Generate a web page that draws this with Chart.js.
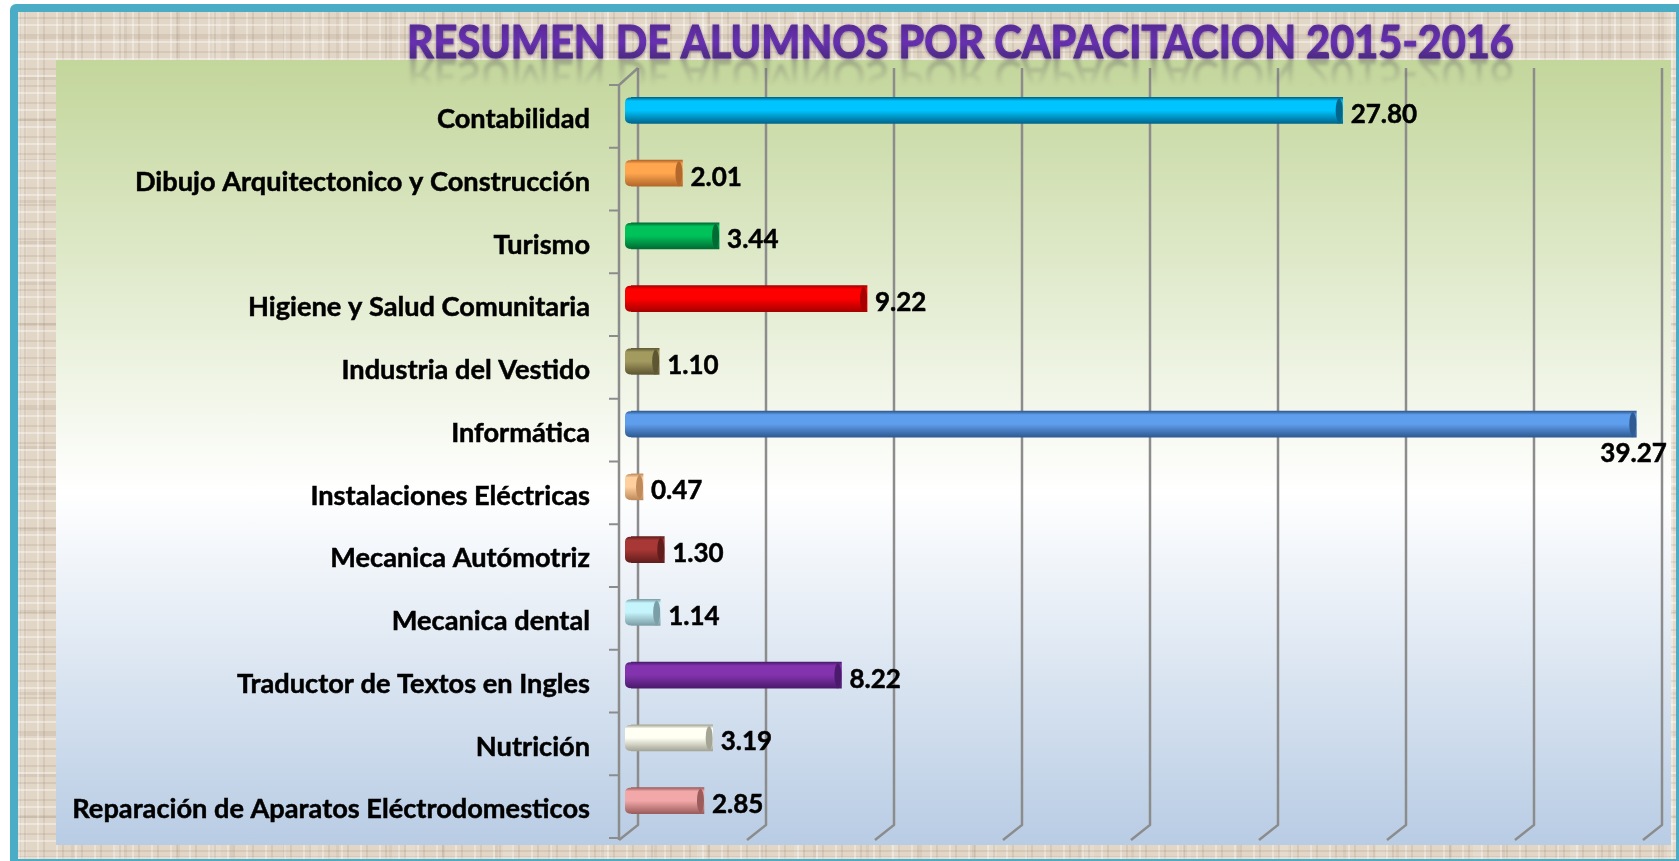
<!DOCTYPE html>
<html lang="es">
<head>
<meta charset="utf-8">
<title>Resumen de alumnos por capacitacion 2015-2016</title>
<script src="https://cdn.jsdelivr.net/npm/chart.js@4"></script>
<style>
    html, body { margin: 0; padding: 0; background: #fff; overflow: hidden; }
    #page { position: relative; width: 1679px; height: 861px; }
    #frame { position: absolute; left: 10px; top: 4px; width: 1669px; height: 857px; background: #4bacc6; border-radius: 6px 0 0 0; }
    /* imitacion de la tela de fondo */
    #cloth {
        position: absolute; left: 18px; top: 12px; width: 1658px; height: 847px;
        background-color: #e2d6c6;
        background-image:
            repeating-linear-gradient(0deg, rgba(255,255,255,.38) 0 2px, transparent 2px 7px, rgba(120,100,80,.12) 7px 9px, transparent 9px 17px),
            repeating-linear-gradient(90deg, rgba(255,255,255,.34) 0 2px, transparent 2px 6px, rgba(120,100,80,.12) 6px 8px, transparent 8px 19px),
            repeating-linear-gradient(0deg, rgba(110,90,70,.10) 0 3px, transparent 3px 41px),
            repeating-linear-gradient(90deg, rgba(110,90,70,.08) 0 3px, transparent 3px 53px),
            repeating-linear-gradient(90deg, rgba(255,255,255,.14) 0 9px, transparent 9px 97px);
    }
    #panel {
        position: absolute; left: 56px; top: 60px; width: 1615px; height: 785px;
        background: linear-gradient(180deg, #c3d69b 0%, #ffffff 55%, #b8cce4 100%);
    }
    #chart { position: absolute; left: 0; top: 0; }
</style>
</head>
<body>
<div id="page">
    <div id="frame"></div>
    <div id="cloth"></div>
    <div id="panel"></div>
    <canvas id="chart" width="1679" height="861"></canvas>
</div>
<script>
const chartTitle = 'RESUMEN DE ALUMNOS POR CAPACITACION 2015-2016';

const categories = [
    'Contabilidad',
    'Dibujo Arquitectonico y Construcción',
    'Turismo',
    'Higiene y Salud Comunitaria',
    'Industria del Vestido',
    'Informática',
    'Instalaciones Eléctricas',
    'Mecanica Autómotriz',
    'Mecanica dental',
    'Traductor de Textos en Ingles',
    'Nutrición',
    'Reparación de Aparatos Eléctrodomesticos'
];
const values = [27.80, 2.01, 3.44, 9.22, 1.10, 39.27, 0.47, 1.30, 1.14, 8.22, 3.19, 2.85];

// color claro y color oscuro de cada cilindro
const barLight = ['#00c4ff', '#ffa64f', '#00c25a', '#ff0000', '#a39a60', '#5f9eed', '#ffcf9e', '#a83836', '#c6f4fc', '#8233ad', '#fffff4', '#f2a8a8'];
const barDark = ['#00668c', '#b3672a', '#006b33', '#a80000', '#5e5632', '#2f5a92', '#c08a5a', '#611d1c', '#7c9ea6', '#4a1b6c', '#a5a596', '#9c5c5c'];

const font = 'Lato, Carlito, sans-serif';
const gridColor = '#8c8c8c';
const barHeight = 26;

// desplazamientos del efecto 3D
const backX = 7, frontX = -12, backTop = 68, backBottom = 825, wallTop = 85, wallBottom = 840;

function barGradient(c, y, i) {
    const g = c.createLinearGradient(0, y - barHeight / 2, 0, y + barHeight / 2);
    g.addColorStop(0, barDark[i]);
    g.addColorStop(0.14, barLight[i]);
    g.addColorStop(0.5, barLight[i]);
    g.addColorStop(1, barDark[i]);
    return g;
}

const frame3d = {
    id: 'frame3d',
    beforeDatasetsDraw(chart) {
        const c = chart.ctx, x = chart.scales.x;
        c.save();
        c.strokeStyle = gridColor;
        c.lineWidth = 2.5;
        x.ticks.forEach(t => {
            const px = x.getPixelForValue(t.value) + backX;
            c.beginPath();
            c.moveTo(px, backTop);
            c.lineTo(px, backBottom);
            c.lineTo(px + frontX - backX, wallBottom);
            c.stroke();
        });
        // pared izquierda y marcas de categoria
        const x0 = x.getPixelForValue(0);
        const wall = x0 + frontX;
        c.beginPath();
        c.moveTo(x0 + backX, backTop);
        c.lineTo(wall, wallTop);
        c.lineTo(wall, wallBottom);
        c.stroke();
        const step = (wallBottom - 2 - wallTop) / categories.length;
        c.lineWidth = 2;
        for (let i = 0; i <= categories.length; i++) {
            c.beginPath();
            c.moveTo(wall - 10, wallTop + step * i);
            c.lineTo(wall, wallTop + step * i);
            c.stroke();
        }
        // extremos redondeados detras de cada barra
        chart.getDatasetMeta(0).data.forEach((bar, i) => {
            c.fillStyle = barGradient(c, bar.y, i);
            c.beginPath();
            c.roundRect(x0 - 6, bar.y - barHeight / 2, 10, barHeight, 5);
            c.roundRect(bar.x - 8, bar.y - barHeight / 2, 8, barHeight, 4);
            c.fill();
        });
        c.restore();
    },
    afterDatasetsDraw(chart) {
        const c = chart.ctx;
        c.save();
        chart.getDatasetMeta(0).data.forEach((bar, i) => {
            // tapa del cilindro
            c.fillStyle = barDark[i];
            c.beginPath();
            c.ellipse(bar.x - 3.5, bar.y, 3.5, barHeight / 2 - 1, 0, 0, Math.PI * 2);
            c.fill();
            // valor
            const txt = values[i].toFixed(2);
            c.font = 'bold 26px ' + font;
            c.fillStyle = '#000';
            c.strokeStyle = '#000';
            c.lineWidth = 0.5;
            c.textBaseline = 'middle';
            c.textAlign = 'left';
            const w = c.measureText(txt).width;
            let lx = bar.x + 8, ly = bar.y + 4;
            if (lx + w > chart.width - 8) {
                lx = bar.x - 36;
                ly = bar.y + 29;
            }
            c.fillText(txt, lx, ly);
            c.strokeText(txt, lx, ly);
        });
        c.restore();
    },
    afterDraw(chart) {
        const c = chart.ctx, tx = 407, base = 58;
        c.save();
        c.font = 'bold 46px ' + font;
        c.textBaseline = 'alphabetic';
        c.textAlign = 'left';
        // el titulo original es mas angosto
        c.translate(tx, 0);
        c.scale(0.9, 1);
        // reflejo del titulo
        c.save();
        c.translate(0, base * 2 + 2);
        c.scale(1, -1);
        const r = c.createLinearGradient(0, base, 0, base - 26);
        r.addColorStop(0, 'rgba(80,70,90,.3)');
        r.addColorStop(1, 'rgba(80,70,90,0)');
        c.fillStyle = r;
        c.filter = 'blur(1.5px)';
        c.fillText(chartTitle, 0, base);
        c.restore();
        const g = c.createLinearGradient(0, base - 32, 0, base);
        g.addColorStop(0, '#5a2a9c');
        g.addColorStop(0.5, '#6a30b8');
        g.addColorStop(1, '#4d2a86');
        c.fillStyle = g;
        c.strokeStyle = g;
        c.lineWidth = 1.2;
        c.shadowColor = 'rgba(70,50,90,.55)';
        c.shadowBlur = 3;
        c.shadowOffsetY = 1;
        c.fillText(chartTitle, 0, base);
        c.strokeText(chartTitle, 0, base);
        c.restore();
    }
};

new Chart(document.getElementById('chart').getContext('2d'), {
    type: 'bar',
    data: {
        labels: categories,
        datasets: [{
            data: values,
            barThickness: barHeight,
            backgroundColor: ctx => {
                if (ctx.type !== 'data') return barLight[0];
                const py = ctx.chart.scales.y.getPixelForValue(ctx.dataIndex);
                if (!Number.isFinite(py)) return barLight[ctx.dataIndex];
                return barGradient(ctx.chart.ctx, py, ctx.dataIndex);
            }
        }]
    },
    options: {
        indexAxis: 'y',
        responsive: false,
        animation: false,
        layout: { padding: { left: 0, top: 79, right: 24, bottom: 29 } },
        plugins: { legend: { display: false }, tooltip: { enabled: false } },
        scales: {
            x: {
                display: false,
                min: 0,
                max: 40,
                ticks: { stepSize: 5 }
            },
            y: {
                // el padding de las etiquetas no debe recortar el area del grafico
                afterFit(s) {
                    s.width = 631;
                    s.paddingTop = 0;
                    s.paddingBottom = 0;
                },
                grid: { display: false, drawTicks: false },
                border: { display: false },
                ticks: {
                    autoSkip: false,
                    padding: 41,
                    labelOffset: 9,
                    color: '#000',
                    textStrokeColor: '#000',
                    textStrokeWidth: 0.5,
                    font: { family: font, size: 27.2, weight: 'bold' }
                }
            }
        }
    },
    plugins: [frame3d]
});
</script>
</body>
</html>
